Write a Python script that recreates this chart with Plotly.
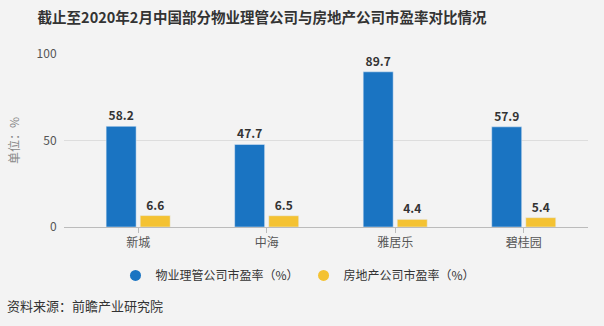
import plotly.graph_objects as go

categories = ["新城", "中海", "雅居乐", "碧桂园"]
property_pe = [58.2, 47.7, 89.7, 57.9]
realestate_pe = [6.6, 6.5, 4.4, 5.4]
series_names = ["物业理管公司市盈率（%）", "房地产公司市盈率（%）"]
colors = ["#1a74c2", "#f4c232"]
y_ticks = [0, 50, 100]

FONT = "Noto Sans CJK SC"
BG = "#f3f3f3"

fig = go.Figure()
for vals, name, col in [(property_pe, series_names[0], colors[0]),
                        (realestate_pe, series_names[1], colors[1])]:
    fig.add_trace(go.Bar(
        x=categories, y=vals, name=name, showlegend=False,
        marker=dict(color=col),
        text=[f"<b>{v:.1f}</b>" for v in vals], textposition="outside",
        textfont=dict(size=12, color="#333333", family=FONT),
        cliponaxis=False,
    ))
for name, col in zip(series_names, colors):
    fig.add_trace(go.Scatter(
        x=[None], y=[None], mode="markers", name=name,
        marker=dict(symbol="circle", size=11, color=col),
    ))

fig.update_layout(
    width=604, height=326,
    paper_bgcolor=BG, plot_bgcolor=BG,
    margin=dict(l=64, r=16, t=54, b=99),
    barmode="group", bargap=0.47, bargroupgap=0.12,
    font=dict(family=FONT, color="#555555", size=12),
    title=dict(text="<b>截止至2020年2月中国部分物业理管公司与房地产公司市盈率对比情况</b>",
               x=262 / 604, xanchor="center", y=0.945, yanchor="middle",
               font=dict(size=14.5, color="#333333", family=FONT)),
    showlegend=True,
    legend=dict(orientation="h", x=(298 - 64) / 524, xanchor="center", y=-0.28, yanchor="middle",
                font=dict(size=12, color="#333333", family=FONT),
                itemwidth=30, bgcolor="rgba(0,0,0,0)", tracegroupgap=10),
    xaxis=dict(range=[-0.577, 3.5], showline=True, linecolor="#bbbbbb", linewidth=1,
               ticks="outside", ticklen=5, tickcolor="#bbbbbb",
               tickfont=dict(size=12, color="#555555")),
    yaxis=dict(range=[0, 100], tickvals=y_ticks, showgrid=True,
               gridcolor="#dddddd", gridwidth=1, zeroline=False,
               ticks="outside", ticklen=4, tickcolor="rgba(0,0,0,0)",
               tickfont=dict(size=12, color="#555555"),
               title=dict(text="单位：%", font=dict(size=12, color="#888888"), standoff=14)),
)

fig.add_annotation(text="资料来源：前瞻产业研究院", xref="paper", yref="paper",
                   x=-59 / 524, xanchor="left", y=-0.452, yanchor="middle",
                   showarrow=False, font=dict(size=13, color="#333333", family=FONT))

fig.write_html("out.html")
